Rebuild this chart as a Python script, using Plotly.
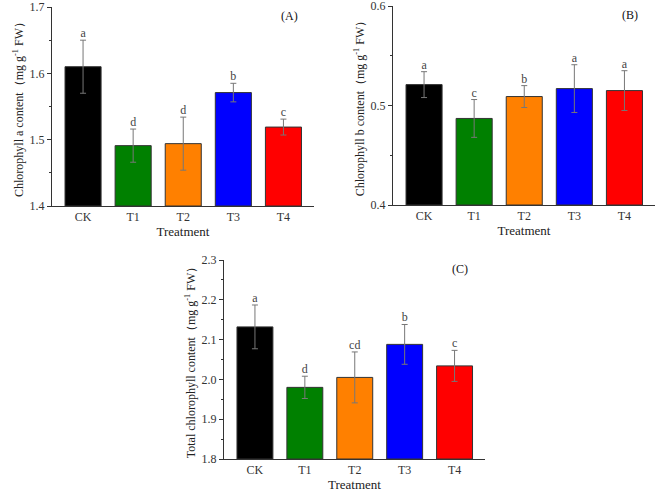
import plotly.graph_objects as go

categories = ["CK", "T1", "T2", "T3", "T4"]
colors = ["#000000", "#008000", "#ff8000", "#0000ff", "#ff0000"]

chl_a = [1.610, 1.491, 1.494, 1.571, 1.519]
chl_a_err = [0.040, 0.025, 0.040, 0.014, 0.012]
chl_a_letters = ["a", "d", "d", "b", "c"]

chl_b = [0.521, 0.487, 0.509, 0.517, 0.515]
chl_b_err = [0.013, 0.019, 0.011, 0.024, 0.020]
chl_b_letters = ["a", "c", "b", "a", "a"]

chl_t = [2.132, 1.980, 2.005, 2.088, 2.034]
chl_t_err = [0.055, 0.028, 0.064, 0.050, 0.039]
chl_t_letters = ["a", "d", "cd", "b", "c"]

panels = [
    ("x", "y", chl_a, chl_a_err, chl_a_letters, "(A)",
     "Chlorophyll a content（mg g<sup>-1</sup> FW）", [1.4, 1.7]),
    ("x2", "y2", chl_b, chl_b_err, chl_b_letters, "(B)",
     "Chlorophyll b content（mg g<sup>-1</sup> FW）", [0.4, 0.6]),
    ("x3", "y3", chl_t, chl_t_err, chl_t_letters, "(C)",
     "Total chlorophyll content（mg g<sup>-1</sup> FW）", [1.8, 2.3]),
]

W, H = 669, 501
def xd(a, b):
    return [a / W, b / W]
def yd(top, bottom):
    return [1 - bottom / H, 1 - top / H]

domains = [
    (xd(52, 314), yd(7, 206)),
    (xd(393, 655), yd(6, 205)),
    (xd(224, 485), yd(260, 459)),
]

serif = "Liberation Serif, Times New Roman, serif"
fig = go.Figure()

for i, (xa, ya, vals, errs, letters, lab, ytitle, yr) in enumerate(panels):
    fig.add_trace(go.Bar(
        x=categories, y=[v - yr[0] for v in vals], base=yr[0],
        xaxis=xa, yaxis=ya,
        marker=dict(color=colors, line=dict(color="#333333", width=1)),
        width=0.72,
        error_y=dict(type="data", array=errs, color="#777777", thickness=1, width=3),
        showlegend=False, hoverinfo="skip",
    ))
    fig.add_trace(go.Scatter(
        x=categories, y=[v + e for v, e in zip(vals, errs)],
        xaxis=xa, yaxis=ya, mode="text", text=letters,
        textposition="top center",
        textfont=dict(family=serif, size=12, color="#444444"),
        showlegend=False, cliponaxis=False, hoverinfo="skip",
    ))
    sfx = "" if i == 0 else str(i + 1)
    xdom, ydom = domains[i]
    span = yr[1] - yr[0]
    fig.layout["xaxis" + sfx] = dict(
        domain=xdom, anchor=ya, range=[-0.62, 4.61], automargin=False,
        showline=True, linecolor="#333333", linewidth=1, ticks="",
        tickfont=dict(family=serif, size=12, color="#333333"),
        title=dict(text="Treatment", font=dict(family=serif, size=13, color="#222222"), standoff=1),
        showgrid=False, zeroline=False, fixedrange=True,
    )
    fig.layout["yaxis" + sfx] = dict(
        domain=ydom, anchor=xa, range=[yr[0], yr[1] + span * 1e-4],
        tick0=yr[0], dtick=0.1, tickformat=".1f", automargin=False,
        ticklabeloverflow="allow",
        showline=True, linecolor="#333333", linewidth=1,
        ticks="outside", ticklen=4, tickcolor="#333333",
        minor=dict(dtick=0.05, ticks="outside", ticklen=2, tickcolor="#333333"),
        tickfont=dict(family=serif, size=12, color="#333333"),
        title=dict(text=ytitle, font=dict(family=serif, size=12, color="#222222"), standoff=3),
        showgrid=False, zeroline=False, fixedrange=True,
    )
    fig.add_annotation(
        text=lab, xref=xa + " domain", yref=ya + " domain",
        x=0.905, y=0.955, xanchor="center", yanchor="middle", showarrow=False,
        font=dict(family=serif, size=12, color="#111111"),
    )

fig.update_layout(
    width=W, height=H, margin=dict(l=0, r=0, t=0, b=0),
    plot_bgcolor="white", paper_bgcolor="white", bargap=0.28,
)

fig.write_html("out.html", config={"displayModeBar": False},
               post_script="document.body.style.margin='0';")
